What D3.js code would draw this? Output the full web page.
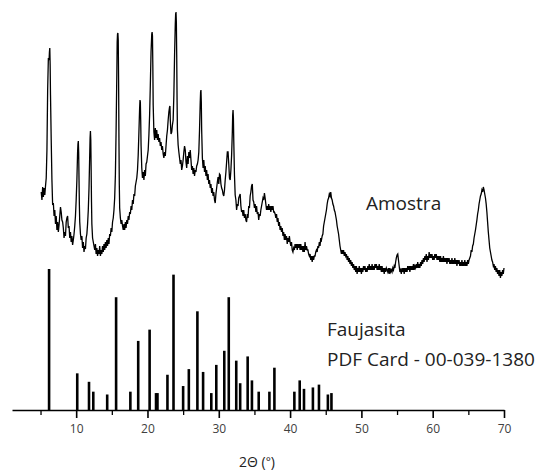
<!DOCTYPE html>
<html>
<head>
<meta charset="utf-8">
<script src="https://cdn.jsdelivr.net/npm/d3@7"></script>
<style>
  body { margin: 0; background: #fff; }
  text { font-family: "Open Sans", sans-serif; }
</style>
</head>
<body>
<div id="container"></div>
<script>
// measured pattern of the sample: [2theta, intensity (a.u.)]
const amostra = [
  [5.1,88],[5.2,80],[5.3,93],[5.4,83],[5.5,92],[5.6,85],[5.7,94],[5.8,102],[5.9,130],[6.0,190],
  [6.1,222],[6.2,220],[6.25,228],[6.3,232],[6.35,215],[6.4,185],[6.5,140],[6.6,100],[6.7,75],[6.8,77],[6.9,64],
  [7.0,70],[7.1,56],[7.2,64],[7.3,50],[7.4,58],[7.5,48],[7.6,55],[7.7,64],[7.8,73],[7.9,68],
  [8.0,60],[8.1,58],[8.2,52],[8.3,42],[8.4,48],[8.5,44],[8.6,58],[8.7,62],[8.8,64],[8.9,52],
  [9.0,54],[9.1,42],[9.2,48],[9.3,38],[9.4,44],[9.5,35],[9.6,40],[9.7,46],[9.8,54],[9.9,64],
  [10.0,80],[10.1,100],[10.2,128],[10.25,136],[10.3,139],[10.35,128],[10.4,100],[10.45,75],[10.5,58],[10.6,46],[10.7,40],[10.8,44],[10.9,32],
  [11.0,38],[11.1,28],[11.2,34],[11.3,31],[11.4,42],[11.5,46],[11.6,56],[11.7,70],[11.8,92],[11.9,125],
  [11.95,142],[12.0,149],[12.05,140],[12.1,110],[12.15,78],[12.2,56],[12.3,42],[12.4,38],[12.5,34],[12.6,30],[12.7,36],[12.8,26],[12.9,32],
  [13.0,24],[13.1,30],[13.2,26],[13.3,34],[13.4,24],[13.5,30],[13.6,26],[13.7,34],[13.8,28],[13.9,36],
  [14.0,30],[14.1,38],[14.2,32],[14.3,40],[14.4,34],[14.5,42],[14.6,36],[14.7,46],[14.8,44],[14.9,52],
  [15.0,48],[15.1,58],[15.2,62],[15.3,70],[15.4,82],[15.5,105],[15.6,150],[15.7,205],[15.75,238],[15.8,246],[15.85,247],
  [15.9,240],[15.95,200],[16.0,140],[16.05,95],[16.1,72],[16.2,62],[16.3,56],[16.4,60],[16.5,54],[16.6,50],[16.7,56],[16.8,50],
  [16.9,58],[17.0,52],[17.1,60],[17.2,56],[17.3,64],[17.4,60],[17.5,68],[17.6,66],[17.7,74],[17.8,70],
  [17.9,80],[18.0,76],[18.1,86],[18.2,84],[18.3,94],[18.4,98],[18.5,102],[18.6,110],[18.7,125],[18.8,148],
  [18.9,172],[18.95,180],[19.0,178],[19.05,160],[19.1,135],[19.2,112],[19.3,102],[19.4,108],[19.5,100],[19.6,110],[19.7,104],[19.8,116],
  [19.9,118],[20.0,124],[20.1,130],[20.2,145],[20.3,165],[20.4,195],[20.5,228],[20.6,246],[20.65,248],[20.7,244],[20.75,215],[20.8,175],
  [20.9,148],[21.0,140],[21.1,152],[21.2,142],[21.3,150],[21.4,140],[21.5,146],[21.6,138],[21.7,142],[21.8,134],
  [21.9,138],[22.0,130],[22.1,134],[22.2,126],[22.3,122],[22.4,128],[22.5,124],[22.6,134],[22.7,144],[22.8,150],
  [22.9,160],[23.0,168],[23.1,173],[23.15,174],[23.2,160],[23.3,146],[23.4,148],[23.5,155],[23.6,160],[23.7,185],[23.8,225],
  [23.9,256],[23.95,266],[24.0,268],[24.05,258],[24.1,225],[24.15,180],[24.2,150],[24.3,135],[24.4,128],[24.5,122],[24.6,116],[24.7,120],[24.8,110],
  [24.9,114],[25.0,120],[25.1,128],[25.2,134],[25.3,130],[25.4,118],[25.5,112],[25.6,124],[25.7,116],[25.8,128],
  [25.9,122],[26.0,130],[26.1,120],[26.2,110],[26.3,114],[26.4,106],[26.5,112],[26.6,104],[26.7,110],[26.8,108],
  [26.9,114],[27.0,116],[27.1,120],[27.2,128],[27.3,150],[27.4,178],[27.45,188],[27.5,190],[27.55,178],[27.6,150],[27.7,122],[27.8,112],
  [27.9,120],[28.0,108],[28.1,114],[28.2,104],[28.3,110],[28.4,100],[28.5,106],[28.6,96],[28.7,100],[28.8,92],
  [28.9,96],[29.0,87],[29.1,92],[29.2,84],[29.3,88],[29.4,80],[29.5,77],[29.6,86],[29.7,92],[29.8,98],
  [29.9,103],[30.0,96],[30.1,106],[30.2,105],[30.3,96],[30.4,92],[30.5,90],[30.6,86],[30.7,84],[30.8,90],
  [30.9,100],[31.0,108],[31.1,118],[31.2,128],[31.3,128],[31.4,116],[31.5,102],[31.6,100],[31.7,110],[31.8,125],
  [31.9,148],[31.95,165],[32.0,170],[32.05,162],[32.1,140],[32.2,105],[32.3,85],[32.4,80],[32.5,70],[32.6,76],[32.7,74],[32.8,82],
  [32.9,84],[33.0,86],[33.1,74],[33.2,68],[33.3,70],[33.4,64],[33.5,70],[33.6,62],[33.7,66],[33.8,60],
  [33.9,58],[34.0,66],[34.1,62],[34.2,74],[34.3,72],[34.4,84],[34.5,88],[34.6,94],[34.7,96],[34.8,80],
  [34.9,78],[35.0,72],[35.1,76],[35.2,68],[35.3,74],[35.4,66],[35.5,68],[35.6,60],[35.7,66],[35.8,64],
  [35.9,70],[36.0,74],[36.1,78],[36.2,82],[36.3,80],[36.4,87],[36.5,82],[36.6,76],[36.7,70],[36.8,74],
  [36.9,70],[37.0,76],[37.1,70],[37.2,74],[37.3,68],[37.4,74],[37.5,70],[37.6,74],[37.7,68],[37.8,68],
  [37.9,66],[38.0,62],[38.1,66],[38.2,58],[38.3,62],[38.4,54],[38.5,58],[38.6,50],[38.7,54],[38.8,48],
  [38.9,52],[39.0,44],[39.1,48],[39.2,40],[39.3,46],[39.4,40],[39.5,44],[39.6,36],[39.7,42],[39.8,38],
  [39.9,44],[40.0,38],[40.1,34],[40.2,38],[40.3,30],[40.4,28],[40.5,32],[40.6,30],[40.7,36],[40.8,32],
  [40.9,36],[41.0,30],[41.1,36],[41.2,32],[41.3,36],[41.4,30],[41.5,36],[41.6,30],[41.7,34],[41.8,28],
  [41.9,34],[42.0,28],[42.1,38],[42.2,30],[42.3,34],[42.4,30],[42.5,30],[42.6,26],[42.7,24],[42.8,26],
  [42.9,20],[43.0,24],[43.1,18],[43.2,24],[43.3,20],[43.4,24],[43.5,24],[43.6,28],[43.7,30],[43.8,28],
  [43.9,34],[44.0,32],[44.1,38],[44.2,34],[44.3,42],[44.4,40],[44.5,44],[44.6,46],[44.7,54],[44.8,58],
  [44.9,62],[45.0,66],[45.1,70],[45.2,76],[45.3,80],[45.4,82],[45.5,86],[45.6,84],[45.7,88],[45.8,82],
  [45.9,80],[46.0,76],[46.1,74],[46.2,70],[46.3,68],[46.4,64],[46.5,60],[46.6,54],[46.7,50],[46.8,46],
  [46.9,40],[47.0,34],[47.1,30],[47.2,26],[47.3,30],[47.4,26],[47.5,30],[47.6,24],[47.7,28],[47.8,24],
  [47.9,26],[48.0,20],[48.1,24],[48.2,18],[48.3,22],[48.4,16],[48.5,20],[48.6,14],[48.7,18],[48.8,12],
  [48.9,16],[49.0,10],[49.1,14],[49.2,8],[49.3,14],[49.4,6],[49.5,12],[49.6,8],[49.7,14],[49.8,8],
  [49.9,12],[50.0,6],[50.1,12],[50.2,8],[50.3,14],[50.4,10],[50.5,14],[50.6,8],[50.7,12],[50.8,8],
  [50.9,14],[51.0,10],[51.1,16],[51.2,10],[51.3,14],[51.4,10],[51.5,16],[51.6,10],[51.7,14],[51.8,10],
  [51.9,16],[52.0,12],[52.1,16],[52.2,10],[52.3,14],[52.4,10],[52.5,16],[52.6,10],[52.7,14],[52.8,8],
  [52.9,14],[53.0,8],[53.1,12],[53.2,6],[53.3,12],[53.4,8],[53.5,12],[53.6,10],[53.7,8],[53.8,12],
  [53.9,6],[54.0,12],[54.1,8],[54.2,10],[54.3,8],[54.4,12],[54.5,10],[54.6,14],[54.7,12],[54.8,18],
  [54.9,22],[55.0,25],[55.1,26],[55.2,20],[55.3,14],[55.4,8],[55.5,10],[55.6,6],[55.7,12],[55.8,8],
  [55.9,12],[56.0,6],[56.1,12],[56.2,8],[56.3,12],[56.4,8],[56.5,14],[56.6,10],[56.7,14],[56.8,8],
  [56.9,14],[57.0,10],[57.1,14],[57.2,10],[57.3,16],[57.4,10],[57.5,14],[57.6,12],[57.7,16],[57.8,12],
  [57.9,18],[58.0,12],[58.1,16],[58.2,12],[58.3,18],[58.4,14],[58.5,20],[58.6,16],[58.7,22],[58.8,18],
  [58.9,24],[59.0,20],[59.1,26],[59.2,18],[59.3,24],[59.4,20],[59.5,28],[59.6,22],[59.7,26],[59.8,22],
  [59.9,26],[60.0,20],[60.1,24],[60.2,20],[60.3,26],[60.4,22],[60.5,26],[60.6,20],[60.7,24],[60.8,20],
  [60.9,24],[61.0,18],[61.1,24],[61.2,18],[61.3,22],[61.4,18],[61.5,24],[61.6,18],[61.7,22],[61.8,18],
  [61.9,22],[62.0,16],[62.1,22],[62.2,18],[62.3,22],[62.4,16],[62.5,20],[62.6,16],[62.7,22],[62.8,16],
  [62.9,20],[63.0,16],[63.1,22],[63.2,16],[63.3,20],[63.4,14],[63.5,20],[63.6,16],[63.7,20],[63.8,14],
  [63.9,18],[64.0,14],[64.1,20],[64.2,14],[64.3,18],[64.4,14],[64.5,20],[64.6,14],[64.7,18],[64.8,14],
  [64.9,20],[65.0,16],[65.1,20],[65.2,22],[65.3,24],[65.4,30],[65.5,28],[65.6,34],[65.7,36],[65.8,42],
  [65.9,46],[66.0,50],[66.1,55],[66.2,60],[66.3,66],[66.4,70],[66.5,76],[66.6,80],[66.7,84],[66.8,86],
  [66.9,90],[67.0,88],[67.1,93],[67.2,90],[67.3,86],[67.4,82],[67.5,76],[67.6,68],[67.7,58],[67.8,48],
  [67.9,40],[68.0,32],[68.1,28],[68.2,24],[68.3,20],[68.4,18],[68.5,14],[68.6,16],[68.7,10],[68.8,14],
  [68.9,8],[69.0,12],[69.1,6],[69.2,10],[69.3,4],[69.4,10],[69.5,2],[69.6,8],[69.7,4],[69.8,10],
  [69.9,6],[70.0,12]
];

// reference card lines (Faujasita, PDF 00-039-1380)
const cardPos = [6.2, 10.15, 11.8, 12.4, 14.35, 15.6, 17.6, 18.7, 20.3, 21.2, 21.4, 22.8, 23.65,
  25.0, 25.8, 27.0, 27.8, 28.95, 29.65, 30.77, 31.4, 32.45, 33.0, 34.05, 34.65, 35.6, 37.1, 37.8,
  40.6, 41.35, 41.95, 43.2, 44.05, 45.3, 45.8];
const cardInt = [100, 26, 20, 13, 11, 80, 13, 49, 57, 12, 12, 25, 96,
  17, 29, 70, 27, 12, 32, 42, 80, 35, 19, 38, 21, 13, 13, 30,
  13, 21, 15, 16, 18, 11, 12];

const majorTicks = [10, 20, 30, 40, 50, 60, 70];
const minorTicks = [5, 15, 25, 35, 45, 55, 65];

const width = 541, height = 473;

const svg = d3.select('#container')
    .append("svg")
    .attr("width", width)
    .attr("height", height);

const x = d3.scaleLinear().domain([1, 70]).range([12, 504]);
const yTrace = d3.scaleLinear().domain([0, 270]).range([280, 10]);
const yCard = d3.scaleLinear().domain([0, 100]).range([410, 269]);

// sample trace
const line = d3.line()
    .x(d => x(d[0]))
    .y(d => yTrace(d[1]));

svg.append("path")
    .datum(amostra)
    .attr("fill", "none")
    .attr("stroke", "#000")
    .attr("stroke-width", 1.3)
    .attr("d", line);

// card sticks
svg.selectAll(".stick")
    .data(cardPos)
    .enter()
    .append("line")
    .attr("class", "stick")
    .attr("x1", d => x(d))
    .attr("x2", d => x(d))
    .attr("y1", yCard(0))
    .attr("y2", (d, i) => yCard(cardInt[i]))
    .attr("stroke", "#000")
    .attr("stroke-width", 2.6);

// x axis
const axisG = svg.append("g")
    .attr("transform", "translate(0," + yCard(0) + ")")
    .call(d3.axisBottom(x).tickValues(majorTicks).tickSize(8).tickSizeOuter(0).tickPadding(6));

axisG.select(".domain").attr("stroke-width", 1.6);
axisG.selectAll(".tick line").attr("stroke-width", 1.6);
axisG.selectAll(".tick text")
    .style("font-family", '"Open Sans", sans-serif')
    .style("font-size", "12px")
    .attr("fill", "#404040");

const minorG = svg.append("g")
    .attr("transform", "translate(0," + yCard(0) + ")")
    .call(d3.axisBottom(x).tickValues(minorTicks).tickSize(5).tickFormat(""));
minorG.select(".domain").remove();
minorG.selectAll(".tick line").attr("stroke-width", 1.3);

// labels
svg.append("text")
    .attr("x", 366)
    .attr("y", 210)
    .style("font-size", "19px")
    .attr("fill", "#222")
    .text("Amostra");

svg.append("text")
    .attr("x", 327)
    .attr("y", 336)
    .style("font-size", "19px")
    .attr("fill", "#222")
    .text("Faujasita");

svg.append("text")
    .attr("x", 327)
    .attr("y", 366)
    .style("font-size", "19px")
    .attr("fill", "#222")
    .text("PDF Card - 00-039-1380");

const xTitle = svg.append("text")
    .attr("x", 257)
    .attr("y", 467)
    .attr("text-anchor", "middle")
    .style("font-size", "14px")
    .attr("fill", "#222");
xTitle.append("tspan").text("2Θ (");
xTitle.append("tspan").style("font-size", "12px").attr("dy", -1).text("°");
xTitle.append("tspan").attr("dy", 1).text(")");
</script>
</body>
</html>
